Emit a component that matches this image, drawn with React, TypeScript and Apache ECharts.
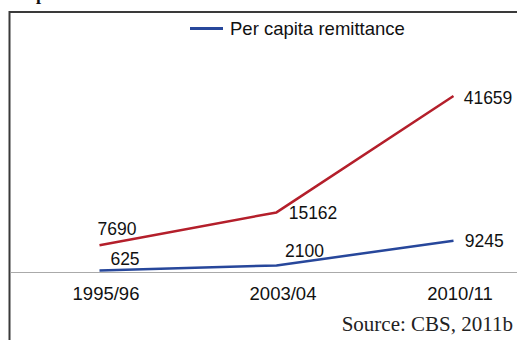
import React, { useEffect, useRef } from "react";
import * as echarts from "echarts";

const categories = ["1995/96", "2003/04", "2010/11"];
const perCapitaRemittance = [625, 2100, 9245];
const perCapitaIncome = [7690, 15162, 41659];
const legendNames = ["Per capita remittance"];
const sourceText = "Source: CBS, 2011b";

const BLUE = "#27479b";
const RED = "#b41f2b";
const SANS = "'Liberation Sans', Arial, sans-serif";
const SERIF = "'Liberation Serif', 'Times New Roman', serif";

const blueOffsets = [[25.5, -11.5], [28, -14.7], [30.8, 0.6]];
const redOffsets = [[17.5, -16.5], [36.5, 0.5], [34.5, 1.8]];

export default function App() {
  const ref = useRef<HTMLDivElement>(null);
  useEffect(() => {
    if (!ref.current) return;
    const chart = echarts.init(ref.current, null, { renderer: "svg" });
    const mk = (vals: number[], offs: number[][]) =>
      vals.map((v, i) => ({
        value: v,
        label: {
          show: true,
          position: "inside",
          offset: offs[i],
          formatter: String(v),
          color: "#111",
          fontSize: 17.5,
          fontFamily: SANS,
        },
      }));
    chart.setOption({
      animation: false,
      backgroundColor: "#fff",
      legend: {
        data: legendNames,
        left: 190,
        top: 19,
        padding: 0,
        icon: "rect",
        itemWidth: 33,
        itemHeight: 3,
        textStyle: { fontSize: 18.5, fontFamily: SANS, color: "#111", padding: [0, 0, 0, 2] },
      },
      grid: { left: 11, width: 531, top: 40, bottom: 67.3, containLabel: false },
      xAxis: {
        type: "category",
        data: categories,
        boundaryGap: true,
        axisLine: { lineStyle: { color: "#aaa", width: 1 } },
        axisTick: { show: false },
        axisLabel: {
          color: "#111",
          fontSize: 18.5,
          fontFamily: SANS,
          margin: 11,
          formatter: (v: string) => `{a|${v}}`,
          rich: {
            a: {
              color: "#111",
              fontSize: 18.5,
              fontFamily: SANS,
              padding: [0, 0, 0, 13],
            },
          },
        },
      },
      yAxis: [
        { type: "value", min: 0, max: 67313, show: false, splitLine: { show: false } },
        { type: "value", min: 1434, max: 54417, show: false, splitLine: { show: false } },
      ],
      series: [
        {
          name: "Per capita remittance",
          type: "line",
          yAxisIndex: 0,
          data: mk(perCapitaRemittance, blueOffsets),
          symbol: "circle",
          symbolSize: 0.1,
          itemStyle: { color: BLUE },
          lineStyle: { color: BLUE, width: 2.5 },
        },
        {
          name: "Per capita income",
          type: "line",
          yAxisIndex: 1,
          data: mk(perCapitaIncome, redOffsets),
          symbol: "circle",
          symbolSize: 0.1,
          itemStyle: { color: RED },
          lineStyle: { color: RED, width: 2.5 },
        },
      ],
      graphic: [
        {
          type: "polyline",
          shape: { points: [[9.5, 345], [9.5, 12], [560, 12]] },
          style: { stroke: "#3a3a3a", lineWidth: 2, fill: "none" },
          silent: true,
        },
        {
          type: "text",
          x: 36,
          y: -6,
          style: {
            text: "p",
            font: `bold 18px ${SERIF}`,
            fill: "#111",
            verticalAlign: "middle",
          },
          silent: true,
        },
        {
          type: "text",
          x: 513,
          y: 324,
          style: {
            text: sourceText,
            font: `21px ${SERIF}`,
            fill: "#222",
            align: "right",
            verticalAlign: "middle",
          },
          silent: true,
        },
      ],
    });
    return () => chart.dispose();
  }, []);
  return (
    <div style={{ width: 517, height: 340, position: "fixed", left: 0, top: 0, overflow: "hidden" }}>
      <div ref={ref} style={{ width: 560, height: 340 }} />
    </div>
  );
}
